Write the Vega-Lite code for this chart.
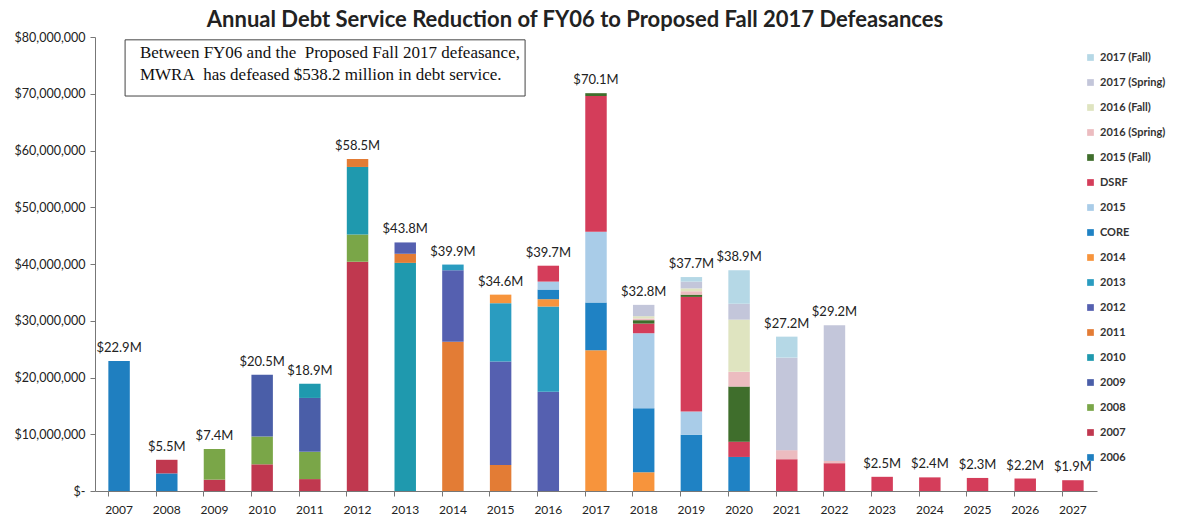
{
  "$schema": "https://vega.github.io/schema/vega-lite/v6.json",
  "autosize": {"type": "none"},
  "width": 1002,
  "height": 454,
  "padding": {"left": 95, "top": 37, "right": 83, "bottom": 28},
  "background": "white",
  "config": {"view": {"stroke": null}, "font": "Lato"},
  "title": {
    "text": "Annual Debt Service Reduction of FY06 to Proposed Fall 2017 Defeasances",
    "fontSize": 22, "font": "Lato", "fontWeight": "bold", "color": "#222",
    "anchor": "middle", "dx": -21, "offset": -1
  },
  "datasets": {
    "stack": [
      {"fy": "2007", "s": "2006", "v": 22.9},
      {"fy": "2008", "s": "2006", "v": 3.1},
      {"fy": "2008", "s": "2007", "v": 2.4},
      {"fy": "2009", "s": "2007", "v": 2.0},
      {"fy": "2009", "s": "2008", "v": 5.4},
      {"fy": "2010", "s": "2007", "v": 4.7},
      {"fy": "2010", "s": "2008", "v": 4.9},
      {"fy": "2010", "s": "2009", "v": 10.9},
      {"fy": "2011", "s": "2007", "v": 2.1},
      {"fy": "2011", "s": "2008", "v": 4.8},
      {"fy": "2011", "s": "2009", "v": 9.5},
      {"fy": "2011", "s": "2010", "v": 2.5},
      {"fy": "2012", "s": "2007", "v": 40.4},
      {"fy": "2012", "s": "2008", "v": 4.8},
      {"fy": "2012", "s": "2010", "v": 11.9},
      {"fy": "2012", "s": "2011", "v": 1.4},
      {"fy": "2013", "s": "2010", "v": 40.2},
      {"fy": "2013", "s": "2011", "v": 1.6},
      {"fy": "2013", "s": "2012", "v": 2.0},
      {"fy": "2014", "s": "2011", "v": 26.3},
      {"fy": "2014", "s": "2012", "v": 12.6},
      {"fy": "2014", "s": "2013", "v": 1.0},
      {"fy": "2015", "s": "2011", "v": 4.6},
      {"fy": "2015", "s": "2012", "v": 18.2},
      {"fy": "2015", "s": "2013", "v": 10.3},
      {"fy": "2015", "s": "2014", "v": 1.5},
      {"fy": "2016", "s": "2012", "v": 17.5},
      {"fy": "2016", "s": "2013", "v": 15.0},
      {"fy": "2016", "s": "2014", "v": 1.3},
      {"fy": "2016", "s": "CORE", "v": 1.7},
      {"fy": "2016", "s": "2015", "v": 1.4},
      {"fy": "2016", "s": "DSRF", "v": 2.8},
      {"fy": "2017", "s": "2014", "v": 24.8},
      {"fy": "2017", "s": "CORE", "v": 8.4},
      {"fy": "2017", "s": "2015", "v": 12.5},
      {"fy": "2017", "s": "DSRF", "v": 23.9},
      {"fy": "2017", "s": "2015 (Fall)", "v": 0.5},
      {"fy": "2018", "s": "2014", "v": 3.3},
      {"fy": "2018", "s": "CORE", "v": 11.3},
      {"fy": "2018", "s": "2015", "v": 13.2},
      {"fy": "2018", "s": "DSRF", "v": 1.7},
      {"fy": "2018", "s": "2015 (Fall)", "v": 0.6},
      {"fy": "2018", "s": "2016 (Spring)", "v": 0.3},
      {"fy": "2018", "s": "2016 (Fall)", "v": 0.4},
      {"fy": "2018", "s": "2017 (Spring)", "v": 2.0},
      {"fy": "2019", "s": "CORE", "v": 9.9},
      {"fy": "2019", "s": "2015", "v": 4.1},
      {"fy": "2019", "s": "DSRF", "v": 20.2},
      {"fy": "2019", "s": "2015 (Fall)", "v": 0.4},
      {"fy": "2019", "s": "2016 (Spring)", "v": 0.6},
      {"fy": "2019", "s": "2016 (Fall)", "v": 0.5},
      {"fy": "2019", "s": "2017 (Spring)", "v": 1.2},
      {"fy": "2019", "s": "2017 (Fall)", "v": 0.8},
      {"fy": "2020", "s": "CORE", "v": 6.0},
      {"fy": "2020", "s": "DSRF", "v": 2.7},
      {"fy": "2020", "s": "2015 (Fall)", "v": 9.7},
      {"fy": "2020", "s": "2016 (Spring)", "v": 2.6},
      {"fy": "2020", "s": "2016 (Fall)", "v": 9.2},
      {"fy": "2020", "s": "2017 (Spring)", "v": 2.8},
      {"fy": "2020", "s": "2017 (Fall)", "v": 5.9},
      {"fy": "2021", "s": "DSRF", "v": 5.6},
      {"fy": "2021", "s": "2016 (Spring)", "v": 1.6},
      {"fy": "2021", "s": "2017 (Spring)", "v": 16.3},
      {"fy": "2021", "s": "2017 (Fall)", "v": 3.7},
      {"fy": "2022", "s": "DSRF", "v": 4.9},
      {"fy": "2022", "s": "2016 (Spring)", "v": 0.4},
      {"fy": "2022", "s": "2017 (Spring)", "v": 23.9},
      {"fy": "2023", "s": "DSRF", "v": 2.5},
      {"fy": "2024", "s": "DSRF", "v": 2.4},
      {"fy": "2025", "s": "DSRF", "v": 2.3},
      {"fy": "2026", "s": "DSRF", "v": 2.2},
      {"fy": "2027", "s": "DSRF", "v": 1.9}
    ],
    "totals": [
      {"fy": "2007", "total": 22.9, "label": "$22.9M"},
      {"fy": "2008", "total": 5.5, "label": "$5.5M"},
      {"fy": "2009", "total": 7.4, "label": "$7.4M"},
      {"fy": "2010", "total": 20.5, "label": "$20.5M"},
      {"fy": "2011", "total": 18.9, "label": "$18.9M"},
      {"fy": "2012", "total": 58.5, "label": "$58.5M"},
      {"fy": "2013", "total": 43.8, "label": "$43.8M"},
      {"fy": "2014", "total": 39.9, "label": "$39.9M"},
      {"fy": "2015", "total": 34.6, "label": "$34.6M"},
      {"fy": "2016", "total": 39.7, "label": "$39.7M"},
      {"fy": "2017", "total": 70.1, "label": "$70.1M"},
      {"fy": "2018", "total": 32.8, "label": "$32.8M"},
      {"fy": "2019", "total": 37.7, "label": "$37.7M"},
      {"fy": "2020", "total": 38.9, "label": "$38.9M"},
      {"fy": "2021", "total": 27.2, "label": "$27.2M"},
      {"fy": "2022", "total": 29.2, "label": "$29.2M"},
      {"fy": "2023", "total": 2.5, "label": "$2.5M"},
      {"fy": "2024", "total": 2.4, "label": "$2.4M"},
      {"fy": "2025", "total": 2.3, "label": "$2.3M"},
      {"fy": "2026", "total": 2.2, "label": "$2.2M"},
      {"fy": "2027", "total": 1.9, "label": "$1.9M"}
    ]
  },
  "encoding": {
    "x": {
      "field": "fy", "type": "nominal",
      "scale": {"paddingInner": 0.55, "paddingOuter": 0.28},
      "axis": {
        "title": null, "labelAngle": 0, "labelFontSize": 12, "labelColor": "#222",
        "domainColor": "#777", "tickColor": "#777", "tickSize": 5, "bandPosition": 0,
        "labelPadding": 8
      }
    },
    "y": {
      "type": "quantitative",
      "scale": {"domain": [0, 80], "nice": false},
      "axis": {
        "title": null, "grid": false, "values": [0, 10, 20, 30, 40, 50, 60, 70, 80],
        "labelExpr": "datum.value == 0 ? '$-' : format(datum.value * 1000000, '$,')",
        "labelFontSize": 12.5, "labelColor": "#222", "domainColor": "#777", "tickColor": "#777",
        "tickSize": 5, "labelPadding": 5
      }
    }
  },
  "layer": [
    {
      "data": {"name": "stack"},
      "transform": [
        {"calculate": "indexof(['2006','2007','2008','2009','2010','2011','2012','2013','2014','CORE','2015','DSRF','2015 (Fall)','2016 (Spring)','2016 (Fall)','2017 (Spring)','2017 (Fall)'], datum.s)", "as": "ord"}
      ],
      "mark": {"type": "bar"},
      "encoding": {
        "y": {"field": "v", "type": "quantitative", "stack": "zero"},
        "order": {"field": "ord", "type": "quantitative", "sort": "ascending"},
        "color": {
          "field": "s", "type": "nominal",
          "scale": {
            "domain": ["2017 (Fall)", "2017 (Spring)", "2016 (Fall)", "2016 (Spring)", "2015 (Fall)", "DSRF", "2015", "CORE", "2014", "2013", "2012", "2011", "2010", "2009", "2008", "2007", "2006"],
            "range": ["#b5d8e6", "#c3c6da", "#dfe4c0", "#ecbcc0", "#3f6e2c", "#d43d5a", "#a9cce8", "#1f82c4", "#f7943c", "#2a9cc0", "#5560b0", "#e37c35", "#1f99ae", "#4a5ea8", "#7aa648", "#c0384f", "#1f7fc0"]
          },
          "legend": {
            "title": null, "orient": "none", "legendX": 990, "legendY": 15,
            "symbolType": "square", "symbolSize": 45, "symbolStrokeWidth": 0,
            "labelFontSize": 11, "labelFontWeight": "bold", "labelColor": "#333",
            "rowPadding": 13, "labelOffset": 4
          }
        }
      }
    },
    {
      "data": {"name": "totals"},
      "mark": {"type": "text", "baseline": "bottom", "dy": -6, "fontSize": 13, "color": "#222", "font": "Lato"},
      "encoding": {
        "y": {"field": "total", "type": "quantitative"},
        "text": {"field": "label"}
      }
    },
    {
      "data": {"values": [{}]},
      "mark": {"type": "rect", "fill": "white", "stroke": "#444", "strokeWidth": 1},
      "encoding": {
        "x": {"datum": "2007", "bandPosition": 0.78},
        "x2": {"datum": "2015", "bandPosition": 1.64},
        "y": {"datum": 79.5},
        "y2": {"datum": 69.6}
      }
    },
    {
      "data": {"values": [{}]},
      "mark": {
        "type": "text", "align": "left", "baseline": "top", "font": "Liberation Serif",
        "fontSize": 17, "lineHeight": 22, "color": "#111",
        "text": ["Between FY06 and the\u00a0 Proposed Fall 2017 defeasance,", " MWRA\u00a0 has defeased $538.2 million in debt service."]
      },
      "encoding": {
        "x": {"datum": "2007", "bandPosition": 1.47},
        "y": {"datum": 78.6}
      }
    }
  ]
}
